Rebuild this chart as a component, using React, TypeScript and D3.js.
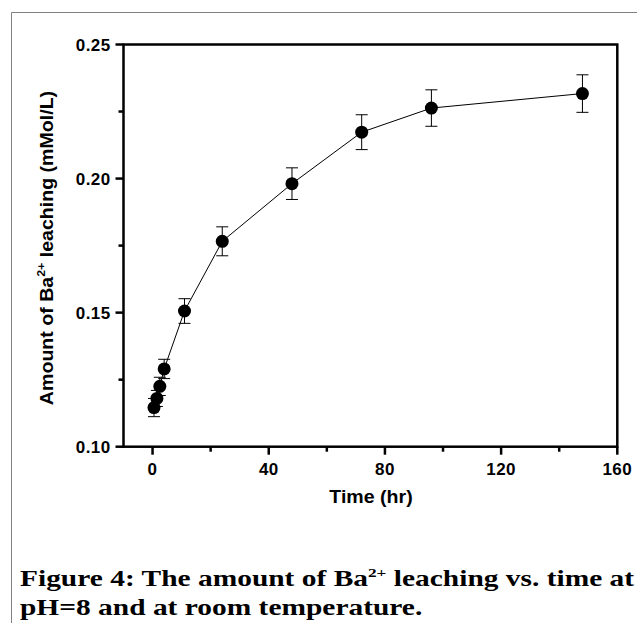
import React from 'react'
import { scaleLinear, line } from 'd3'

const WIDTH = 637
const HEIGHT = 626

// plot frame
const LEFT = 123.5
const RIGHT = 617.3
const TOP = 44.5
const BOTTOM = 446.7

const times = [0.5, 1.5, 2.5, 4, 11, 24, 48, 72, 96, 148]
const amounts = [0.1146, 0.118, 0.1225, 0.129, 0.1506, 0.1766, 0.1981, 0.2173, 0.2263, 0.2317]
const errors = [0.0034, 0.003, 0.0034, 0.0036, 0.0046, 0.0054, 0.0059, 0.0065, 0.0068, 0.007]

const xMajor = [0, 40, 80, 120, 160]
const xMinor = [20, 60, 100, 140]
const yMajor = [0.1, 0.15, 0.2, 0.25]
const yMinor = [0.125, 0.175, 0.225]

const AXIS_FONT = '"Liberation Sans", Arial, sans-serif'
const CAPTION_FONT = '"Liberation Serif", "Times New Roman", serif'

const App = () => {
  const xScale = scaleLinear().domain([-10, 160]).range([LEFT, RIGHT])
  const yScale = scaleLinear().domain([0.1, 0.25]).range([BOTTOM, TOP])

  const points = times.map((t, i) => ({ t, v: amounts[i], e: errors[i] }))

  const linePath = line<{ t: number, v: number }>()
    .x(d => xScale(d.t))
    .y(d => yScale(d.v))

  const tickStyle = { fontFamily: AXIS_FONT, fontWeight: 'bold', fontSize: 17, letterSpacing: 0.4 }
  const titleStyle = { fontFamily: AXIS_FONT, fontWeight: 'bold', fontSize: 17.5 }

  return (
    <svg width={WIDTH} height={HEIGHT} style={{ position: 'absolute', left: 0, top: 0, background: 'white' }}>
      {/* page frame */}
      <path d={`M11.5,${HEIGHT - 3} V12.5 H${WIDTH}`} style={{ stroke: '#808080', fill: 'none', strokeWidth: 1 }} />

      <g data-data>
        <path d={linePath(points) || ''} style={{ stroke: 'black', fill: 'none', strokeWidth: 1 }} />
        {points.map(p => (
          <g key={p.t}>
            <line x1={xScale(p.t)} x2={xScale(p.t)} y1={yScale(p.v - p.e)} y2={yScale(p.v + p.e)} style={{ stroke: 'black', strokeWidth: 1 }} />
            <line x1={xScale(p.t) - 6} x2={xScale(p.t) + 6} y1={yScale(p.v - p.e)} y2={yScale(p.v - p.e)} style={{ stroke: 'black', strokeWidth: 1 }} />
            <line x1={xScale(p.t) - 6} x2={xScale(p.t) + 6} y1={yScale(p.v + p.e)} y2={yScale(p.v + p.e)} style={{ stroke: 'black', strokeWidth: 1 }} />
          </g>
        ))}
        {points.map(p => (
          <circle key={p.t} cx={xScale(p.t)} cy={yScale(p.v)} r={6.5} fill="black" />
        ))}
      </g>

      <rect x={LEFT} y={TOP} width={RIGHT - LEFT} height={BOTTOM - TOP} style={{ fill: 'none', stroke: 'black', strokeWidth: 2.5 }} />

      <g data-x-axis>
        {xMajor.map(item => (
          <g key={item}>
            <line x1={xScale(item)} x2={xScale(item)} y1={BOTTOM} y2={BOTTOM + 8} style={{ stroke: 'black', strokeWidth: 2.5 }} />
            <text x={xScale(item)} y={BOTTOM + 28} textAnchor="middle" style={tickStyle}>{item}</text>
          </g>
        ))}
        {xMinor.map(item => (
          <line key={item} x1={xScale(item)} x2={xScale(item)} y1={BOTTOM} y2={BOTTOM + 5} style={{ stroke: 'black', strokeWidth: 2.5 }} />
        ))}
        <text transform="translate(371, 503) scale(1.12, 1)" textAnchor="middle" style={titleStyle}>Time (hr)</text>
      </g>

      <g data-y-axis>
        {yMajor.map(item => (
          <g key={item}>
            <line x1={LEFT - 8} x2={LEFT} y1={yScale(item)} y2={yScale(item)} style={{ stroke: 'black', strokeWidth: 2.5 }} />
            <text x={LEFT - 13} y={yScale(item)} dy="0.36em" textAnchor="end" style={tickStyle}>{item.toFixed(2)}</text>
          </g>
        ))}
        {yMinor.map(item => (
          <line key={item} x1={LEFT - 5} x2={LEFT} y1={yScale(item)} y2={yScale(item)} style={{ stroke: 'black', strokeWidth: 2.5 }} />
        ))}
        <text transform="translate(53, 248) rotate(-90) scale(1.12, 1)" textAnchor="middle" style={titleStyle}>
          Amount of Ba<tspan dy="-8" style={{ fontSize: 11 }}>2+</tspan><tspan dy="8"> leaching (mMol/L)</tspan>
        </text>
      </g>

      <g data-caption style={{ fontFamily: CAPTION_FONT, fontWeight: 'bold', fontSize: 23 }}>
        <text transform="translate(20, 586) scale(1.28, 1)">
          Figure 4: The amount of Ba<tspan dy="-9" style={{ fontSize: 13.5 }}>2+</tspan><tspan dy="9"> leaching vs. time at</tspan>
        </text>
        <text transform="translate(20, 615) scale(1.28, 1)">pH=8 and at room temperature.</text>
      </g>
    </svg>
  )
}

export default App
